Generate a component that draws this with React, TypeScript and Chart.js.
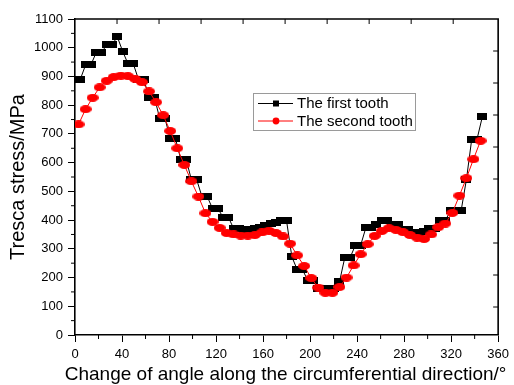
import React, { useEffect, useRef } from 'react';
import { Chart, registerables } from 'chart.js';

Chart.register(...registerables);

// ---- data ----
const xTickLabels = [0, 40, 80, 120, 160, 200, 240, 280, 320, 360];
const yTickLabels = [0, 100, 200, 300, 400, 500, 600, 700, 800, 900, 1000, 1100];
const seriesNames = ['The first tooth', 'The second tooth'];
const xTitle = 'Change of angle along the circumferential direction/°';
const yTitle = 'Tresca stress/MPa';

const firstToothAngle = [
  0, 4.5, 9, 13.5, 18, 22.5, 27, 31.5, 36, 40.5,
  45, 49.5, 54, 58.5, 63, 67.5, 72, 76.5, 81, 85.5,
  90, 94.5, 99, 103.5, 108, 112.5, 117, 121.5, 126, 130.5,
  135, 139.5, 144, 148.5, 153, 157.5, 162, 166.5, 171, 175.5,
  180, 184.5, 189, 193.5, 198, 202.5, 207, 211.5, 216, 220.5,
  225, 229.5, 234, 238.5, 243, 247.5, 252, 256.5, 261, 265.5,
  270, 274.5, 279, 283.5, 288, 292.5, 297, 301.5, 306, 310.5,
  315, 319.5, 324, 328.5, 333, 337.5, 342, 346.5,
];
const firstToothStress = [
  890, 890, 940, 940, 983, 983, 1010, 1010, 1038, 988,
  945, 945, 890, 890, 828, 828, 755, 755, 683, 683,
  612, 612, 541, 541, 482, 482, 440, 440, 410, 410,
  370, 370, 368, 368, 370, 375, 380, 387, 390, 397,
  397, 272, 228, 228, 190, 190, 162, 162, 161, 161,
  185, 269, 269, 312, 312, 374, 374, 385, 398, 398,
  384, 384, 367, 367, 356, 356, 360, 372, 372, 398,
  398, 433, 433, 433, 541, 681, 681, 759,
];

const secondToothAngle = [
  3, 9, 15, 21, 27, 33, 39, 45, 51, 57,
  63, 69, 75, 81, 87, 93, 99, 105, 111, 117,
  123, 129, 135, 141, 147, 153, 159, 165, 171, 177,
  183, 189, 195, 201, 207, 213, 219, 225, 231, 237,
  243, 249, 255, 261, 267, 273, 279, 285, 291, 297,
  303, 309, 315, 321, 327, 333, 339, 345,
];
const secondToothStress = [
  733, 786, 826, 862, 885, 898, 903, 901, 892, 880,
  848, 810, 765, 710, 650, 592, 535, 482, 424, 394,
  373, 355, 350, 346, 346, 348, 357, 363, 355, 343,
  318, 277, 240, 198, 165, 147, 147, 167, 200, 242,
  281, 316, 345, 362, 372, 366, 358, 348, 339, 334,
  350, 375, 388, 425, 485, 546, 612, 676,
];

const FONT = "'Liberation Sans', Arial, sans-serif";

function makeMarker(w: number, h: number, color: string, shape: 'rect' | 'ellipse') {
  const c = document.createElement('canvas');
  c.width = w;
  c.height = h;
  const g = c.getContext('2d')!;
  g.fillStyle = color;
  if (shape === 'rect') {
    g.fillRect(0, 0, w, h);
  } else {
    g.beginPath();
    g.ellipse(w / 2, h / 2, w / 2, h / 2, 0, 0, Math.PI * 2);
    g.fill();
  }
  return c;
}

const framePlugin = {
  id: 'frameAndLegend',
  afterDraw(chart: any) {
    const { ctx, chartArea: a, scales } = chart;
    const xs = scales.x;
    const ys = scales.y;
    const x2 = scales.x2;
    const y2 = scales.y2;
    ctx.save();
    ctx.strokeStyle = '#000';
    ctx.lineWidth = 1.6;
    ctx.beginPath();
    ctx.moveTo(a.left, a.top);
    ctx.lineTo(a.right, a.top);
    ctx.lineTo(a.right, a.bottom);
    ctx.stroke();

    ctx.lineWidth = 1;
    ctx.beginPath();
    for (let v = Math.ceil(x2.min); v <= x2.max; v++) {
      const px = x2.getPixelForValue(v);
      if (px > a.left + 3 && px < a.right - 3) {
        ctx.moveTo(px, a.top);
        ctx.lineTo(px, a.top + 5);
      }
    }
    for (let v = Math.ceil(y2.min); v <= y2.max; v++) {
      const py = y2.getPixelForValue(v);
      if (py > a.top + 3 && py < a.bottom - 3) {
        ctx.moveTo(a.right, py);
        ctx.lineTo(a.right - 5, py);
      }
    }
    // minor ticks
    for (let i = 0; i < xTickLabels.length - 1; i++) {
      const px = xs.getPixelForValue((xTickLabels[i] + xTickLabels[i + 1]) / 2);
      ctx.moveTo(px, a.bottom);
      ctx.lineTo(px, a.bottom + 4);
    }
    for (let i = 0; i < yTickLabels.length - 1; i++) {
      const py = ys.getPixelForValue((yTickLabels[i] + yTickLabels[i + 1]) / 2);
      ctx.moveTo(a.left, py);
      ctx.lineTo(a.left - 4, py);
    }
    ctx.stroke();

    // x-axis title (drawn without width compression)
    ctx.fillStyle = '#000';
    ctx.font = `19px ${FONT}`;
    ctx.textAlign = 'center';
    ctx.textBaseline = 'middle';
    ctx.fillText(xTitle, (a.left + a.right) / 2 - 1, a.bottom + 40);

    // legend
    const bx = a.left + 178;
    const by = a.top + 74;
    const bw = 162;
    const bh = 37;
    ctx.strokeStyle = '#9a9a9a';
    ctx.lineWidth = 1;
    ctx.strokeRect(bx + 0.5, by + 0.5, bw, bh);
    const rows = [by + 10.5, by + 28];
    const ds = chart.data.datasets;
    ds.forEach((d: any, i: number) => {
      const yy = rows[i];
      ctx.strokeStyle = d.borderColor;
      ctx.lineWidth = 1;
      ctx.beginPath();
      ctx.moveTo(bx + 5, yy);
      ctx.lineTo(bx + 40, yy);
      ctx.stroke();
      ctx.fillStyle = d.borderColor;
      if (i === 0) {
        ctx.fillRect(bx + 20, yy - 3, 6, 6);
      } else {
        ctx.beginPath();
        ctx.arc(bx + 23, yy, 3.4, 0, Math.PI * 2);
        ctx.fill();
      }
      ctx.fillStyle = '#000';
      ctx.font = `15px ${FONT}`;
      ctx.textBaseline = 'middle';
      ctx.textAlign = 'left';
      ctx.fillText(d.label, bx + 44, yy + 0.5);
    });
    ctx.restore();
  },
};

export default function App() {
  const ref = useRef<HTMLCanvasElement | null>(null);

  useEffect(() => {
    if (!ref.current) return;
    const blackMarker = makeMarker(10, 7, '#000000', 'rect');
    const redMarker = makeMarker(12, 8, '#ff0000', 'ellipse');

    const chart = new Chart(ref.current, {
      type: 'line',
      data: {
        datasets: [
          {
            label: seriesNames[0],
            data: firstToothAngle.map((a, i) => ({ x: a, y: firstToothStress[i] })),
            borderColor: '#000000',
            backgroundColor: '#000000',
            borderWidth: 1,
            pointStyle: blackMarker as any,
            pointRadius: 4,
            order: 1,
          },
          {
            label: seriesNames[1],
            data: secondToothAngle.map((a, i) => ({ x: a, y: secondToothStress[i] })),
            borderColor: '#ff0000',
            backgroundColor: '#ff0000',
            borderWidth: 1,
            pointStyle: redMarker as any,
            pointRadius: 4,
            order: 0,
          },
        ],
      },
      options: {
        responsive: false,
        devicePixelRatio: 1,
        animation: false,
        layout: { padding: { left: 0, right: 11, top: 19, bottom: 0 } },
        plugins: { legend: { display: false }, tooltip: { enabled: false } },
        scales: {
          x: {
            type: 'linear',
            position: 'bottom',
            min: 0,
            max: 360,
            afterBuildTicks: (s: any) => {
              s.ticks = xTickLabels.map((v) => ({ value: v }));
            },
            afterFit: (s: any) => {
              s.height = 50;
            },
            ticks: {
              color: '#000',
              font: { family: FONT, size: 13 },
              padding: 5,
              maxRotation: 0,
              autoSkip: false,
              callback: (v: any) => String(v),
            },
            grid: { display: true, drawOnChartArea: false, drawTicks: true, tickLength: 7, color: '#000', lineWidth: 1 },
            border: { display: true, color: '#000', width: 1.6 },
            title: { display: false },
          },
          y: {
            type: 'linear',
            position: 'left',
            min: 0,
            max: 1100,
            afterBuildTicks: (s: any) => {
              s.ticks = yTickLabels.map((v) => ({ value: v }));
            },
            afterFit: (s: any) => {
              s.width = 75;
            },
            ticks: {
              color: '#000',
              font: { family: FONT, size: 13 },
              padding: 5,
              autoSkip: false,
              callback: (v: any) => String(v),
            },
            grid: { display: true, drawOnChartArea: false, drawTicks: true, tickLength: 7, color: '#000', lineWidth: 1 },
            border: { display: true, color: '#000', width: 1.6 },
            title: { display: true, text: yTitle, color: '#000', font: { family: FONT, size: 20 }, padding: { top: 6, bottom: 0 } },
          },
          x2: { type: 'linear', position: 'top', display: false, min: 0, max: 10.07 },
          y2: { type: 'linear', position: 'right', display: false, min: -0.875, max: 9 },
        },
      },
      plugins: [framePlugin],
    } as any);
    return () => chart.destroy();
  }, []);

  return (
    <div style={{ position: 'fixed', left: 0, top: 0, width: 514, height: 385, background: '#fff' }}>
      <canvas ref={ref} width={514} height={385} style={{ width: 514, height: 385 }} />
    </div>
  );
}
